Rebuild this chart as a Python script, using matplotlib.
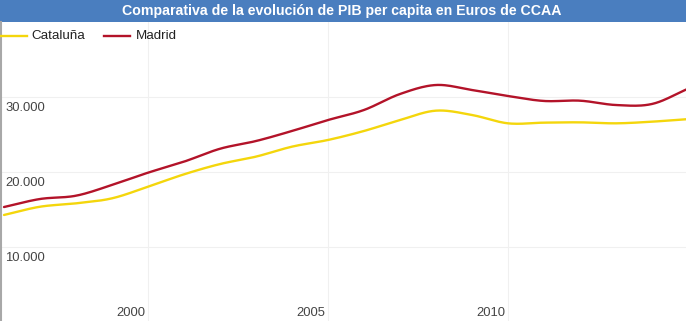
# PIB per capita: Cataluña vs Madrid
import numpy as np
import matplotlib
matplotlib.use("Agg")
import matplotlib.pyplot as plt

plt.rcParams['font.family'] = ['Liberation Sans', 'DejaVu Sans']

years = list(range(1996, 2016))
cataluna = [14270, 15370, 15820, 16490, 18040, 19690, 21060, 22050, 23380, 24270,
            25470, 26930, 28180, 27600, 26490, 26580, 26620, 26490, 26710, 27050]
madrid = [15330, 16400, 16840, 18270, 19910, 21380, 23100, 24130, 25470, 26930,
          28270, 30400, 31600, 30930, 30130, 29470, 29510, 28930, 29070, 31100]
yticks = [10000, 20000, 30000]
ytick_labels = ['10.000', '20.000', '30.000']
xticks = [2000, 2005, 2010]


def smooth(x, y, n=20):
    # cubic hermite with catmull-rom tangents, like the "function" curve
    x = np.asarray(x, float)
    y = np.asarray(y, float)
    m = np.gradient(y, x)
    xs, ys = [], []
    for i in range(len(x) - 1):
        h = x[i + 1] - x[i]
        t = np.linspace(0, 1, n, endpoint=False)
        h00 = 2*t**3 - 3*t**2 + 1
        h10 = t**3 - 2*t**2 + t
        h01 = -2*t**3 + 3*t**2
        h11 = t**3 - t**2
        xs.append(x[i] + t*h)
        ys.append(h00*y[i] + h10*h*m[i] + h01*y[i+1] + h11*h*m[i+1])
    xs.append([x[-1]])
    ys.append([y[-1]])
    return np.concatenate(xs), np.concatenate(ys)


W, H = 686, 321
fig = plt.figure(figsize=(W/100, H/100), dpi=100)
fig.patch.set_facecolor('white')

# title bar
fig.patches.append(plt.Rectangle((0, (H-22)/H), 1, 22/H, transform=fig.transFigure,
                                 facecolor='#4a7ebf', edgecolor='none'))
fig.text(342/W, (H-11)/H, 'Comparativa de la evolución de PIB per capita en Euros de CCAA',
         color='white', fontsize=10.2, fontweight='bold', ha='center', va='center')

ax = fig.add_axes([0, -1/H, 1, 300/H])
ax.set_xlim(2000 - 148/36, 2000 + 538/36)
ax.set_ylim(0, 40000)
for s in ax.spines.values():
    s.set_visible(False)
ax.set_xticks([])
ax.set_yticks([])

for v in yticks:
    ax.axhline(v, color='#f0f0f0', lw=0.8, zorder=0)
for v in xticks:
    ax.axvline(v, color='#f0f0f0', lw=0.8, zorder=0)

xs, ys = smooth(years, cataluna)
ax.plot(xs, ys, color='#f4d60c', lw=1.7, solid_capstyle='round')
xs, ys = smooth(years, madrid)
ax.plot(xs, ys, color='#b31329', lw=1.7, solid_capstyle='round')

for v, lab in zip(yticks, ytick_labels):
    ax.annotate(lab, xy=(0, v), xycoords=('axes fraction', 'data'), xytext=(5, -5),
                textcoords='offset pixels', ha='left', va='top', fontsize=9.4, color='#444444')
for v in xticks:
    ax.annotate(str(v), xy=(v, 0), xycoords=('data', 'axes fraction'), xytext=(-3, 3),
                textcoords='offset pixels', ha='right', va='bottom', fontsize=9.4, color='#444444')

# left border
fig.add_artist(plt.Line2D([1/W, 1/W], [0, (H-22)/H], transform=fig.transFigure,
                          color='#a8a8a8', lw=1.5))

# legend
ly = (H-36)/H
fig.add_artist(plt.Line2D([0, 27/W], [ly, ly], transform=fig.transFigure, color='#f4d60c', lw=1.7))
fig.text(31/W, ly, 'Cataluña', fontsize=9.6, color='#222222', va='center', ha='left')
fig.add_artist(plt.Line2D([104/W, 130/W], [ly, ly], transform=fig.transFigure, color='#b31329', lw=1.7))
fig.text(136/W, ly, 'Madrid', fontsize=9.6, color='#222222', va='center', ha='left')

fig.savefig('out.png', dpi=100)
